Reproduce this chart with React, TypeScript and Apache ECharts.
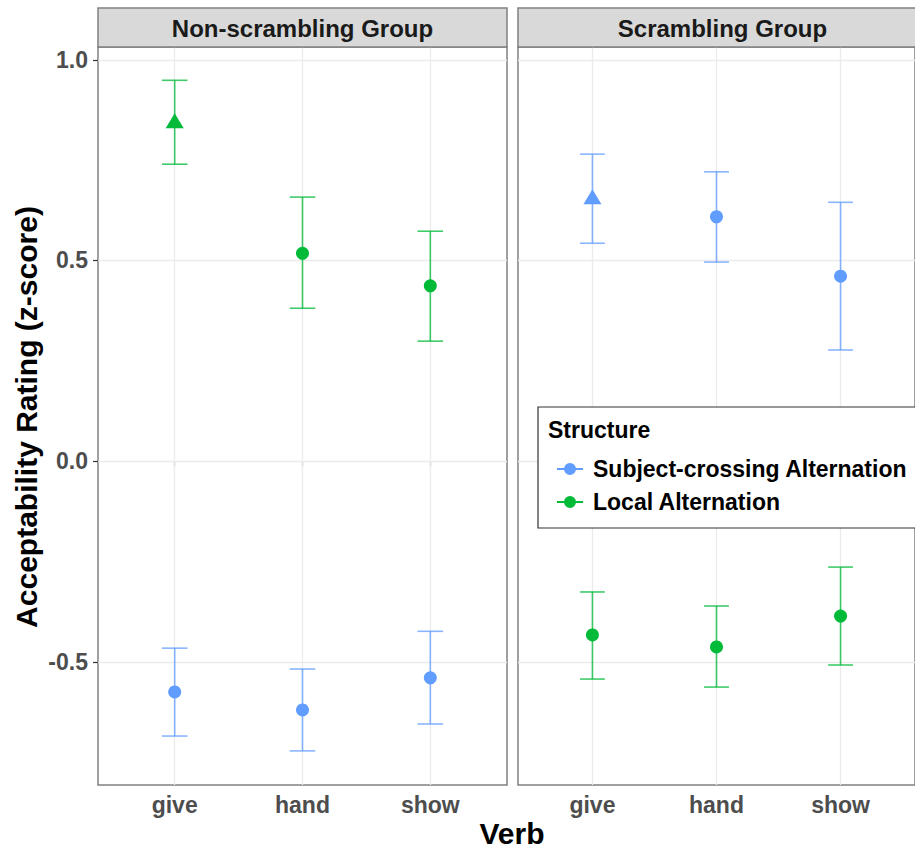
import React, { useEffect, useRef } from 'react';
import * as echarts from 'echarts';

const verbs = ['give', 'hand', 'show'];
const yTickValues = [-0.5, 0, 0.5, 1.0];
const panels = ['Non-scrambling Group', 'Scrambling Group'];
const structures = ['Subject-crossing Alternation', 'Local Alternation'];

// Non-scrambling group
const nonScrSubjMean = [-0.575, -0.62, -0.54];
const nonScrSubjLow = [-0.685, -0.722, -0.655];
const nonScrSubjHigh = [-0.466, -0.518, -0.424];
const nonScrSubjShapes = ['circle', 'circle', 'circle'];
const nonScrLocalMean = [0.848, 0.518, 0.437];
const nonScrLocalLow = [0.74, 0.381, 0.299];
const nonScrLocalHigh = [0.949, 0.658, 0.573];
const nonScrLocalShapes = ['triangle', 'circle', 'circle'];

// Scrambling group
const scrSubjMean = [0.659, 0.609, 0.461];
const scrSubjLow = [0.543, 0.496, 0.277];
const scrSubjHigh = [0.765, 0.721, 0.645];
const scrSubjShapes = ['triangle', 'circle', 'circle'];
const scrLocalMean = [-0.433, -0.463, -0.386];
const scrLocalLow = [-0.543, -0.563, -0.508];
const scrLocalHigh = [-0.326, -0.361, -0.264];
const scrLocalShapes = ['circle', 'circle', 'circle'];

const BLUE = '#619CFF';
const GREEN = '#00BA38';
const FONT = '"Liberation Sans", Arial, Helvetica, sans-serif';

const GRID_TOP = 47;
const GRID_H = 738;
const GRID_W = 409;
const GRID_LEFTS = [98, 518];

function pointSeries(name: string, mean: number[], shapes: string[], color: string, g: number) {
  return {
    type: 'scatter',
    name,
    xAxisIndex: g,
    yAxisIndex: g,
    z: 4,
    itemStyle: { color, opacity: 1 },
    emphasis: { disabled: true },
    data: mean.map((m, i) => ({
      value: [i + 1, m],
      symbol: shapes[i],
      symbolSize: shapes[i] === 'triangle' ? [18, 15] : 13,
    })),
  };
}

function errSeries(low: number[], high: number[], color: string, g: number) {
  return {
    type: 'custom',
    xAxisIndex: g,
    yAxisIndex: g,
    z: 3,
    silent: true,
    encode: { x: 0, y: [1, 2] },
    data: low.map((l, i) => [i + 1, l, high[i]]),
    renderItem: (params: any, api: any) => {
      const x = api.value(0);
      const lo = api.value(1);
      const hi = api.value(2);
      const pTop = api.coord([x, hi]);
      const pBot = api.coord([x, lo]);
      const hw = api.coord([x + 0.1, hi])[0] - pTop[0];
      const style = { stroke: color, lineWidth: 1.6, opacity: 0.75 };
      return {
        type: 'group',
        children: [
          { type: 'line', shape: { x1: pTop[0], y1: pTop[1], x2: pBot[0], y2: pBot[1] }, style },
          { type: 'line', shape: { x1: pTop[0] - hw, y1: pTop[1], x2: pTop[0] + hw, y2: pTop[1] }, style },
          { type: 'line', shape: { x1: pBot[0] - hw, y1: pBot[1], x2: pBot[0] + hw, y2: pBot[1] }, style },
        ],
      };
    },
  };
}

function gridLineSeries(g: number) {
  return {
    type: 'scatter',
    xAxisIndex: g,
    yAxisIndex: g,
    data: [],
    silent: true,
    z: 1,
    markLine: {
      silent: true,
      z: 1,
      symbol: ['none', 'none'],
      label: { show: false },
      emphasis: { disabled: true },
      lineStyle: { color: '#EBEBEB', width: 1.3, type: 'solid' },
      data: [
        ...verbs.map((_, i) => ({ xAxis: i + 1 })),
        ...yTickValues.map((v) => ({ yAxis: v })),
      ],
    },
  };
}

export default function App() {
  const ref = useRef<HTMLDivElement>(null);
  useEffect(() => {
    if (!ref.current) return;
    const chart = echarts.init(ref.current, undefined, { renderer: 'svg' });
    const legendIcon =
      'path://M0,5H26V7H0Z M19,6A6,6 0 1 1 7,6A6,6 0 1 1 19,6Z';

    const graphics: any[] = [];
    panels.forEach((p, g) => {
      graphics.push({
        type: 'rect',
        z: 2,
        shape: { x: GRID_LEFTS[g], y: 8, width: GRID_W, height: 39 },
        style: { fill: '#D9D9D9', stroke: '#808080', lineWidth: 1.5 },
      });
      graphics.push({
        type: 'text',
        z: 3,
        x: GRID_LEFTS[g] + GRID_W / 2,
        y: 28,
        style: {
          text: p,
          fill: '#1A1A1A',
          font: `bold 24px ${FONT}`,
          textAlign: 'center',
          textVerticalAlign: 'middle',
        },
      });
    });
    graphics.push({
      type: 'text',
      x: 512,
      y: 833,
      style: {
        text: 'Verb',
        fill: '#000',
        font: `bold 30px ${FONT}`,
        textAlign: 'center',
        textVerticalAlign: 'middle',
      },
    });
    graphics.push({
      type: 'text',
      x: 26,
      y: 417,
      rotation: Math.PI / 2,
      style: {
        text: 'Acceptability Rating (z-score)',
        fill: '#000',
        font: `bold 30px ${FONT}`,
        textAlign: 'center',
        textVerticalAlign: 'middle',
      },
    });
    graphics.push({
      type: 'rect',
      z: 6,
      shape: { x: 538, y: 407, width: 400, height: 121 },
      style: { fill: '#fff', stroke: '#333', lineWidth: 1.2 },
    });
    graphics.push({
      type: 'text',
      z: 7,
      x: 548,
      y: 430,
      style: {
        text: 'Structure',
        fill: '#000',
        font: `bold 23px ${FONT}`,
        textAlign: 'left',
        textVerticalAlign: 'middle',
      },
    });

    const tickStyle = { color: '#333', width: 1.2 };
    const labelStyle = { fontSize: 23, fontWeight: 'bold', color: '#4D4D4D', fontFamily: FONT };

    chart.setOption({
      animation: false,
      grid: GRID_LEFTS.map((left) => ({
        left,
        top: GRID_TOP,
        width: GRID_W,
        height: GRID_H,
        show: true,
        backgroundColor: '#fff',
        borderColor: '#808080',
        borderWidth: 1.5,
      })),
      xAxis: [0, 1].map((g) => ({
        type: 'value',
        gridIndex: g,
        min: 0.4,
        max: 3.6,
        axisLine: { show: false },
        splitLine: { show: false },
        axisTick: { show: true, customValues: [1, 2, 3], length: 5, lineStyle: tickStyle },
        axisLabel: {
          customValues: [1, 2, 3],
          formatter: (v: number) => verbs[Math.round(v) - 1] ?? '',
          margin: 8,
          ...labelStyle,
        },
      })),
      yAxis: [0, 1].map((g) => ({
        type: 'value',
        gridIndex: g,
        min: -0.807,
        max: 1.032,
        axisLine: { show: false },
        splitLine: { show: false },
        axisTick: { show: g === 0, customValues: yTickValues, length: 5, lineStyle: tickStyle },
        axisLabel: {
          show: g === 0,
          customValues: yTickValues,
          formatter: (v: number) => v.toFixed(1),
          margin: 10,
          ...labelStyle,
        },
      })),
      legend: {
        show: true,
        orient: 'vertical',
        left: 552,
        top: 452,
        z: 8,
        selectedMode: false,
        itemWidth: 26,
        itemHeight: 12,
        itemGap: 9,
        icon: legendIcon,
        data: structures,
        textStyle: {
          fontSize: 23,
          fontWeight: 'bold',
          color: '#000',
          fontFamily: FONT,
          lineHeight: 24,
          padding: [0, 0, 0, 5],
        },
      },
      graphic: graphics,
      series: [
        gridLineSeries(0),
        gridLineSeries(1),
        errSeries(nonScrSubjLow, nonScrSubjHigh, BLUE, 0),
        errSeries(nonScrLocalLow, nonScrLocalHigh, GREEN, 0),
        errSeries(scrSubjLow, scrSubjHigh, BLUE, 1),
        errSeries(scrLocalLow, scrLocalHigh, GREEN, 1),
        pointSeries(structures[0], nonScrSubjMean, nonScrSubjShapes, BLUE, 0),
        pointSeries(structures[1], nonScrLocalMean, nonScrLocalShapes, GREEN, 0),
        pointSeries(structures[0], scrSubjMean, scrSubjShapes, BLUE, 1),
        pointSeries(structures[1], scrLocalMean, scrLocalShapes, GREEN, 1),
      ],
    });
    return () => chart.dispose();
  }, []);
  return (
    <div
      ref={ref}
      style={{ position: 'absolute', left: 0, top: 0, width: 915, height: 850 }}
    />
  );
}
